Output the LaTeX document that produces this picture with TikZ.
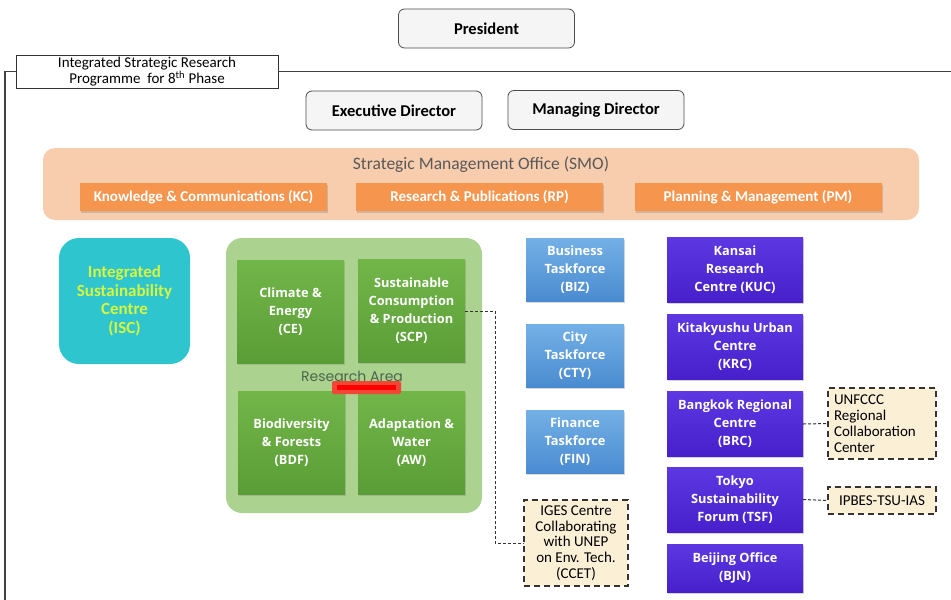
\documentclass[tikz,border=0pt]{standalone}
\usepackage{fontspec}
\setmainfont{Carlito}
\newfontfamily\boxfont{Open Sans}
\newfontfamily\areafont{Poppins}
\usetikzlibrary{shadows}

\definecolor{smoPeach}{HTML}{F8CDAE}
\definecolor{smoOrange}{HTML}{F6954E}
\definecolor{iscCyan}{HTML}{2EC5CE}
\definecolor{iscText}{HTML}{D7F53C}
\definecolor{areaGreen}{HTML}{ABD28F}
\definecolor{greenTop}{HTML}{72B64A}
\definecolor{greenBot}{HTML}{5A9D36}
\definecolor{blueTop}{HTML}{74B0E6}
\definecolor{blueBot}{HTML}{4A8BD0}
\definecolor{purpTop}{HTML}{5C37E2}
\definecolor{purpBot}{HTML}{4720CB}
\definecolor{noteFill}{HTML}{FBEFD6}
\definecolor{markRed}{HTML}{EF4636}

\begin{document}
\begin{tikzpicture}[x=1pt,y=-1pt,
  topbox/.style={draw=black!70, fill=black!4, rounded corners=6pt, line width=0.8pt,
    minimum width=176pt, minimum height=39pt, font=\bfseries\fontsize{16.5}{18}\selectfont},
  smobtn/.style={fill=smoOrange, text=white, minimum width=247pt, minimum height=28pt,
    inner xsep=2pt, font=\bfseries\fontsize{15}{16}\selectfont,
    drop shadow={opacity=0.35, shadow xshift=1pt, shadow yshift=-1.5pt}},
  areabox/.style={top color=greenTop, bottom color=greenBot, text=white, align=center,
    minimum width=107pt, minimum height=103pt, inner xsep=1pt,
    font=\boxfont\bfseries\fontsize{12.8}{18}\selectfont,
    drop shadow={opacity=0.3, shadow xshift=1pt, shadow yshift=-1.5pt}},
  taskbox/.style={top color=blueTop, bottom color=blueBot, text=white, align=center,
    minimum width=98pt, minimum height=63pt,
    font=\boxfont\bfseries\fontsize{12.8}{18}\selectfont,
    drop shadow={opacity=0.3, shadow xshift=1pt, shadow yshift=-1.5pt}},
  officebox/.style={top color=purpTop, bottom color=purpBot, text=white, align=center,
    minimum width=136pt, minimum height=65pt, inner xsep=1pt,
    font=\boxfont\bfseries\fontsize{12.8}{18}\selectfont,
    drop shadow={opacity=0.35, shadow xshift=1pt, shadow yshift=-1.5pt}},
  notebox/.style={draw=black!80, fill=noteFill, line width=1.4pt,
    dash pattern=on 6pt off 4pt, font=\fontsize{15}{15.8}\selectfont},
  link/.style={draw=black!80, line width=1pt, dash pattern=on 3pt off 2pt}
]
\useasboundingbox (0,0) rectangle (951,600);

\node[topbox] (pres) at (486.5,28.5) {President};
\node[draw=black!80, fill=white, line width=0.8pt, minimum width=262pt, minimum height=33pt,
  align=center, font=\fontsize{15}{14.5}\selectfont, inner sep=1pt] (isrp) at (147,71.5)
  {Integrated Strategic Research\\Programme \ for 8\textsuperscript{th} Phase};
\coordinate (frameL) at (5,600);
\coordinate (frameR) at (951,71.5);
\draw[black!75, line width=1.4pt] (isrp.west) -| (frameL);
\draw[black!75, line width=1.4pt] (isrp.east) -- (frameR);

\node[topbox] (exec) at (394,110.5) {Executive Director};
\node[topbox] (mgmt) at (596,110) {Managing Director};

\node[fill=smoPeach, rounded corners=12pt, minimum width=876pt, minimum height=72pt] (smo) at (481,184) {};
\node[text=black!65, font=\fontsize{17.5}{19}\selectfont] (smotitle) at (481,165) {Strategic Management Office (SMO)};
\node[smobtn] (kc) at (203.5,197) {Knowledge \& Communications (KC)};
\node[smobtn] (rp) at (479.5,197) {Research \& Publications (RP)};
\node[smobtn] (pm) at (758,197) {Planning \& Management (PM)};

\node[fill=iscCyan, rounded corners=20pt, minimum width=131pt, minimum height=126pt,
  text=iscText, align=center, font=\bfseries\fontsize{17}{18.5}\selectfont] (isc) at (124.5,301)
  {Integrated\\Sustainability\\Centre\\(ISC)};

\node[fill=areaGreen, rounded corners=16pt, minimum width=256pt, minimum height=275pt] (ra) at (354,375.5) {};
\node[areabox] (ce) at (290.5,311.5) {Climate \&\\Energy\\(CE)};
\node[areabox] (scp) at (411.5,311) {Sustainable\\Consumption\\\& Production\\(SCP)};
\node[areabox] (bdf) at (291.5,442.5) {Biodiversity\\\& Forests\\(BDF)};
\node[areabox] (aw) at (411.5,442.5) {Adaptation \&\\Water\\(AW)};
\node[text=black!55!green!30!black!70, font=\areafont\fontsize{14}{15}\selectfont] (ratitle) at (352,376) {Research Area};
\node[fill=markRed, rounded corners=2pt, minimum width=69pt, minimum height=13pt, inner sep=0pt] (mark) at (366.5,387.5) {};
\fill[red] ([xshift=5pt,yshift=-2.5pt]mark.west) rectangle ([xshift=-5pt,yshift=2.5pt]mark.east);

\node[taskbox] (biz) at (575,269.5) {Business\\Taskforce\\(BIZ)};
\node[taskbox] (cty) at (575,356) {City\\Taskforce\\(CTY)};
\node[taskbox] (fin) at (575,442) {Finance\\Taskforce\\(FIN)};
\node[notebox, minimum width=104pt, minimum height=86pt, align=center] (ccet) at (576,543)
  {IGES Centre\\Collaborating\\with UNEP\\on Env. Tech.\\(CCET)};

\node[officebox] (kuc) at (735,269.5) {Kansai\\Research\\Centre (KUC)};
\node[officebox] (krc) at (735,346.5) {Kitakyushu Urban\\Centre\\(KRC)};
\node[officebox] (brc) at (735,424) {Bangkok Regional\\Centre\\(BRC)};
\node[officebox] (tsf) at (735,499.5) {Tokyo\\Sustainability\\Forum (TSF)};
\node[officebox, minimum height=48pt] (bjn) at (735,568) {Beijing Office\\(BJN)};

\node[notebox, minimum width=108pt, minimum height=71pt, text width=96pt, align=left] (unf) at (882,423.5)
  {UNFCCC\\Regional\\Collaboration\\Center};
\node[notebox, minimum width=108pt, minimum height=27pt] (ipbes) at (882,500.5) {IPBES-TSU-IAS};

\draw[link] (scp.east) -- ++(30,0) |- (ccet.west);
\draw[link] (brc.east) -- (unf.west);
\draw[link] (tsf.east) -- (ipbes.west);
\end{tikzpicture}
\end{document}
